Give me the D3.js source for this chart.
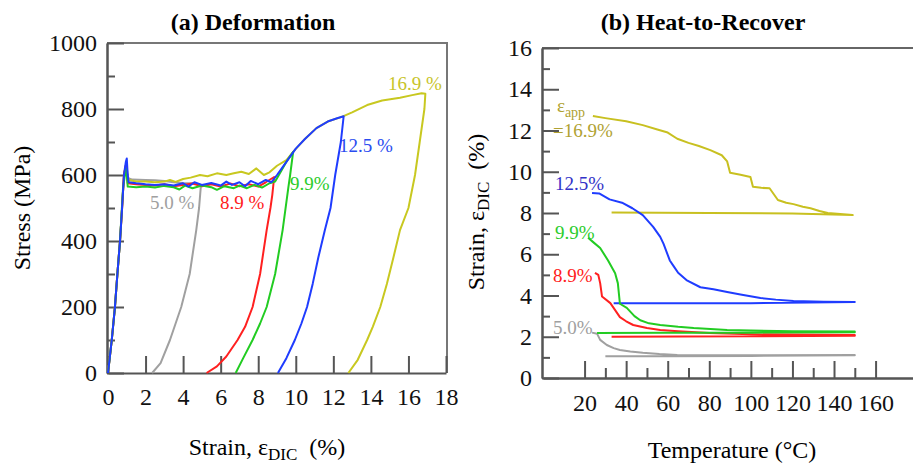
<!DOCTYPE html>
<html lang="en">
<head>
<meta charset="UTF-8">
<title>Deformation / Heat-to-Recover</title>
<script src="https://d3js.org/d3.v7.min.js"></script>
<style>
  body { margin: 0; background: #fff; }
  svg text { font-family: "Liberation Serif", "Times New Roman", "DejaVu Serif", serif; }
</style>
</head>
<body>
<div id="container"></div>
<script>
var SERIF = '"Liberation Serif", "Times New Roman", "DejaVu Serif", serif';

// ---- (a) Deformation: [strain %, stress MPa] ----
var load50 = [[0,0],[0.2,100],[0.37,200],[0.5,300],[0.64,400],[0.75,500],[0.85,600],[0.95,630],[1.0,620],[1.08,590],[1.3,586],[2,585],[2.5,584],[3,582],[3.5,578],[4,576],[4.5,575],[4.95,570],
  [4.85,500],[4.7,433],[4.35,300],[3.9,200],[3.6,150],[3.3,100],[2.8,30],[2.35,0]];
var load89 = [[0,0],[0.2,100],[0.37,200],[0.5,300],[0.64,400],[0.75,500],[0.85,600],[0.95,630],[1.0,610],[1.05,575],[1.5,572],[2,570],[2.5,568],[3,572],[3.5,566],[4,570],[4.5,574],[5,566],[5.5,572],[6,565],[6.5,574],[7,566],[7.5,572],[8,565],[8.4,578],[8.85,594],
  [8.75,540],[8.65,500],[8.45,433],[8.1,300],[7.7,200],[7.3,140],[6.9,100],[6.3,50],[5.8,20],[5.25,0]];
var load99 = [[0,0],[0.2,100],[0.37,200],[0.5,300],[0.64,400],[0.8,560],[0.9,600],[0.95,620],[1.0,600],[1.05,565],[1.5,563],[2,565],[2.5,562],[3,567],[3.5,563],[3.8,556],[4.1,568],[4.5,560],[5,568],[5.5,563],[5.8,555],[6.2,566],[6.7,560],[7,568],[7.4,560],[7.8,570],[8.2,562],[8.6,575],[8.9,580],[9.2,610],[9.5,640],[9.86,670],
  [9.7,600],[9.6,560],[9.3,433],[8.9,300],[8.45,200],[8.1,150],[7.7,100],[7.2,45],[6.8,0]];
var load125 = [[0,0],[0.2,100],[0.37,200],[0.5,300],[0.64,400],[0.75,500],[0.85,600],[0.95,640],[1.0,650],[1.05,600],[1.1,578],[1.5,575],[2,572],[2.5,570],[3,572],[3.5,568],[4,575],[4.3,565],[4.6,578],[5,570],[5.5,576],[6,568],[6.3,580],[6.6,570],[7,578],[7.3,566],[7.6,582],[8,572],[8.4,585],[8.7,578],[9,600],[9.5,640],[10,680],[10.5,710],[11.1,742],[11.7,762],[12.2,772],[12.55,778],
  [12.4,700],[12.1,600],[11.85,500],[11.55,433],[11.2,350],[10.9,270],[10.6,200],[10.3,150],[9.95,100],[9.5,45],[9.05,0]];
var load169 = [[0,0],[0.2,100],[0.37,200],[0.5,300],[0.64,400],[0.75,500],[0.85,600],[0.95,625],[1.0,610],[1.1,585],[1.5,580],[2,580],[2.5,578],[3,580],[3.3,585],[3.6,579],[4,588],[4.4,592],[4.9,600],[5.3,596],[5.8,605],[6.3,600],[6.7,605],[7.1,610],[7.5,603],[7.9,620],[8.3,600],[8.6,608],[9.0,628],[9.5,645],[9.86,670],[10.5,710],[11.1,742],[11.7,762],[12.45,776],[13,790],[13.8,812],[14.6,826],[15.55,834],[16.2,842],[16.7,848],[16.9,846],
  [16.85,800],[16.6,700],[16.35,600],[16.0,500],[15.55,433],[15.2,350],[14.85,270],[14.5,200],[14.1,140],[13.8,100],[13.3,40],[12.8,0]];

// ---- (b) Heat-to-Recover: [temperature °C, strain %] ----
var heat50 = [[23.6,2.2],[26,2.15],[27.5,1.85],[30.7,1.6],[34,1.45],[37,1.36],[42,1.28],[48,1.22],[56,1.16],[64.6,1.12],[80,1.1],[100,1.1],[150,1.12],
  [150,1.1],[100,1.07],[60,1.05],[30,1.05]];
var heat89 = [[25,5.1],[26.6,5.0],[27.5,4.6],[28.4,3.95],[32.4,3.63],[37,2.95],[40,2.75],[43.4,2.57],[50,2.42],[56.4,2.33],[65,2.27],[80,2.18],[100,2.12],[150,2.08],
  [150,2.05],[100,2.02],[33,2.0]];
var heat99 = [[21.7,6.8],[24,6.6],[27.5,6.3],[31.3,5.7],[34.7,5.08],[36,4.6],[37,3.6],[40.3,3.4],[44,3.0],[46.8,2.8],[51,2.65],[56.4,2.57],[65,2.48],[72.5,2.42],[88.6,2.33],[100,2.3],[120,2.27],[150,2.25],
  [150,2.22],[100,2.2],[60,2.2],[26,2.18]];
var heat125 = [[23.6,8.97],[27,8.95],[32,8.66],[38,8.5],[43,8.23],[48,7.9],[53,7.33],[56.4,6.84],[58,6.5],[61,5.7],[63,5.4],[65,5.1],[69,4.75],[75.7,4.4],[82,4.3],[88.6,4.17],[95,4.05],[104.6,3.88],[112,3.8],[120.5,3.73],[135,3.7],[150,3.68],
  [150,3.68],[100,3.63],[34,3.63]];
var heat169 = [[24,12.7],[30,12.6],[40,12.45],[48,12.26],[55,12.05],[60,11.9],[64.6,11.6],[70,11.4],[75,11.25],[80.5,11.05],[86,10.8],[88.6,10.5],[90,9.95],[95,9.85],[99.8,9.75],[101,9.27],[105,9.22],[109,9.2],[113,8.63],[117,8.5],[120.5,8.43],[125,8.3],[128.7,8.23],[133,8.1],[137,8.0],[143,7.95],[149,7.9],
  [149,7.9],[120,7.98],[80,8.0],[33,8.02]];

// ticks
var stressTicks = [0, 200, 400, 600, 800, 1000];
var stressMinor = [100, 300, 500, 700, 900];
var strainTicks = [0, 2, 4, 6, 8, 10, 12, 14, 16, 18];
var recTicks = [0, 2, 4, 6, 8, 10, 12, 14, 16];
var recMinor = [1, 3, 5, 7, 9, 11, 13, 15];
var tempTicks = [20, 40, 60, 80, 100, 120, 140, 160];
var tempMinor = [30, 50, 70, 90, 110, 130, 150];

// labels on the curves (data units of each panel)
var labelsA = [
  { t: "16.9 %", x: 14.91, y: 858, c: "#c8c42a" },
  { t: "12.5 %", x: 12.3, y: 670, c: "#2a4cf0" },
  { t: "9.9%", x: 9.69, y: 555, c: "#2ccc2c" },
  { t: "8.9 %", x: 5.96, y: 497, c: "#ff2020" },
  { t: "5.0 %", x: 2.24, y: 497, c: "#a0a0a0" }
];
var labelsB = [
  { t: "=16.9%", x: 4.8, y: 11.7, c: "#b0a232" },
  { t: "12.5%", x: 5.8, y: 9.1, c: "#3232c8" },
  { t: "9.9%", x: 5.8, y: 6.74, c: "#2ccc2c" },
  { t: "8.9%", x: 4.8, y: 4.65, c: "#ff2020" },
  { t: "5.0%", x: 4.8, y: 2.13, c: "#a0a0a0" }
];

var W = 913, H = 465;
var svg = d3.select("#container").append("svg")
  .attr("width", W).attr("height", H)
  .attr("font-family", SERIF);

function styleAxis(g) {
  g.attr("font-family", SERIF);
  g.selectAll("path.domain").attr("stroke", "#555").attr("stroke-width", 2);
  g.selectAll(".tick line").attr("stroke", "#555").attr("stroke-width", 2);
  g.selectAll(".tick text").attr("fill", "#111")
    .attr("font-family", SERIF).style("font-size", "24px");
}
var fmt = d3.format("d");

// ---------- panel (a) ----------
var xA = d3.scaleLinear().domain([0, 18]).range([108, 446]);
var yA = d3.scaleLinear().domain([0, 1000]).range([373, 43]);

// frame top & right
svg.append("path")
  .attr("d", "M" + (xA.range()[0] - 1) + "," + yA.range()[1] + "H" + (xA.range()[1] + 1) + "V" + yA.range()[0])
  .attr("fill", "none").attr("stroke", "#777").attr("stroke-width", 2);

svg.append("g").attr("transform", "translate(0," + yA.range()[0] + ")")
  .call(d3.axisBottom(xA).tickValues(strainTicks).tickFormat(fmt).tickSizeInner(-17).tickSizeOuter(0).tickPadding(15))
  .call(styleAxis);
svg.append("g").attr("transform", "translate(" + (xA.range()[0] - 1) + ",0)")
  .call(d3.axisLeft(yA).tickValues(stressTicks).tickFormat(fmt).tickSizeInner(-17).tickSizeOuter(0).tickPadding(10))
  .call(styleAxis);
svg.append("g").attr("transform", "translate(" + (xA.range()[0] - 1) + ",0)")
  .call(d3.axisLeft(yA).tickValues(stressMinor).tickSizeInner(-8).tickSizeOuter(0).tickFormat(""))
  .call(styleAxis);

var lineA = d3.line().x(function (d) { return xA(d[0]); }).y(function (d) { return yA(d[1]); });
var seriesA = [
  { d: load50, c: "#a0a0a0" },
  { d: load169, c: "#c8c820" },
  { d: load89, c: "#ff2020" },
  { d: load99, c: "#22cc22" },
  { d: load125, c: "#1f3cff" }
];
svg.append("g").selectAll("path").data(seriesA).enter().append("path")
  .attr("d", function (s) { return lineA(s.d); })
  .attr("fill", "none").attr("stroke", function (s) { return s.c; })
  .attr("stroke-width", 2).attr("stroke-linejoin", "round");

svg.append("g").selectAll("text").data(labelsA).enter().append("text")
  .attr("x", function (d) { return xA(d.x); }).attr("y", function (d) { return yA(d.y); })
  .attr("fill", function (d) { return d.c; }).style("font-size", "19px")
  .text(function (d) { return d.t; });

svg.append("text").attr("x", 253).attr("y", 30).attr("text-anchor", "middle")
  .style("font-size", "24px").style("font-weight", "bold").text("(a) Deformation");
svg.append("text").attr("transform", "translate(30,208) rotate(-90)").attr("text-anchor", "middle")
  .style("font-size", "24px").text("Stress (MPa)");
var xtA = svg.append("text").attr("x", 267).attr("y", 455).attr("text-anchor", "middle").style("font-size", "24px");
xtA.append("tspan").text("Strain, \u03b5");
xtA.append("tspan").attr("dy", 5).style("font-size", "17px").text("DIC");
xtA.append("tspan").attr("dy", -5).text("\u00a0 (%)");

// ---------- panel (b) ----------
var xB = d3.scaleLinear().domain([0, 178]).range([543, 913]);
var yB = d3.scaleLinear().domain([0, 16]).range([378, 48]);

svg.append("path")
  .attr("d", "M" + (xB.range()[0] - 1) + "," + yB.range()[1] + "H" + xB.range()[1])
  .attr("fill", "none").attr("stroke", "#666").attr("stroke-width", 2);

svg.append("g").attr("transform", "translate(0," + yB.range()[0] + ")")
  .call(d3.axisBottom(xB).tickValues(tempTicks).tickFormat(fmt).tickSizeInner(-17).tickSizeOuter(0).tickPadding(16))
  .call(styleAxis);
svg.append("g").attr("transform", "translate(0," + yB.range()[0] + ")")
  .call(d3.axisBottom(xB).tickValues(tempMinor).tickSizeInner(-10).tickSizeOuter(0).tickFormat(""))
  .call(styleAxis);
svg.append("g").attr("transform", "translate(" + (xB.range()[0] - 1) + ",0)")
  .call(d3.axisLeft(yB).tickValues(recTicks).tickFormat(fmt).tickSizeInner(-17).tickSizeOuter(0).tickPadding(10))
  .call(styleAxis);
svg.append("g").attr("transform", "translate(" + (xB.range()[0] - 1) + ",0)")
  .call(d3.axisLeft(yB).tickValues(recMinor).tickSizeInner(-8).tickSizeOuter(0).tickFormat(""))
  .call(styleAxis);

var lineB = d3.line().x(function (d) { return xB(d[0]); }).y(function (d) { return yB(d[1]); });
var seriesB = [
  { d: heat169, c: "#c8c020" },
  { d: heat125, c: "#1f3cff" },
  { d: heat50, c: "#a0a0a0" },
  { d: heat89, c: "#ff2020" },
  { d: heat99, c: "#22cc22" }
];
svg.append("g").selectAll("path").data(seriesB).enter().append("path")
  .attr("d", function (s) { return lineB(s.d); })
  .attr("fill", "none").attr("stroke", function (s) { return s.c; })
  .attr("stroke-width", 2).attr("stroke-linejoin", "round");

svg.append("g").selectAll("text").data(labelsB).enter().append("text")
  .attr("x", function (d) { return xB(d.x); }).attr("y", function (d) { return yB(d.y); })
  .attr("fill", function (d) { return d.c; }).style("font-size", "19px")
  .text(function (d) { return d.t; });
var eps = svg.append("text").attr("x", xB(6.7)).attr("y", yB(12.9))
  .attr("fill", "#b0a232").style("font-size", "19px");
eps.append("tspan").text("\u03b5");
eps.append("tspan").attr("dy", 5).style("font-size", "14px").text("app");

svg.append("text").attr("x", 703).attr("y", 30).attr("text-anchor", "middle")
  .style("font-size", "24px").style("font-weight", "bold").text("(b) Heat-to-Recover");
var ytB = svg.append("text").attr("transform", "translate(484,212) rotate(-90)")
  .attr("text-anchor", "middle").style("font-size", "24px");
ytB.append("tspan").text("Strain, \u03b5");
ytB.append("tspan").attr("dy", 5).style("font-size", "17px").text("DIC");
ytB.append("tspan").attr("dy", -5).text("\u00a0 (%)");
svg.append("text").attr("x", 732).attr("y", 458).attr("text-anchor", "middle")
  .style("font-size", "24px").text("Temperature (\u00b0C)");
</script>
</body>
</html>
